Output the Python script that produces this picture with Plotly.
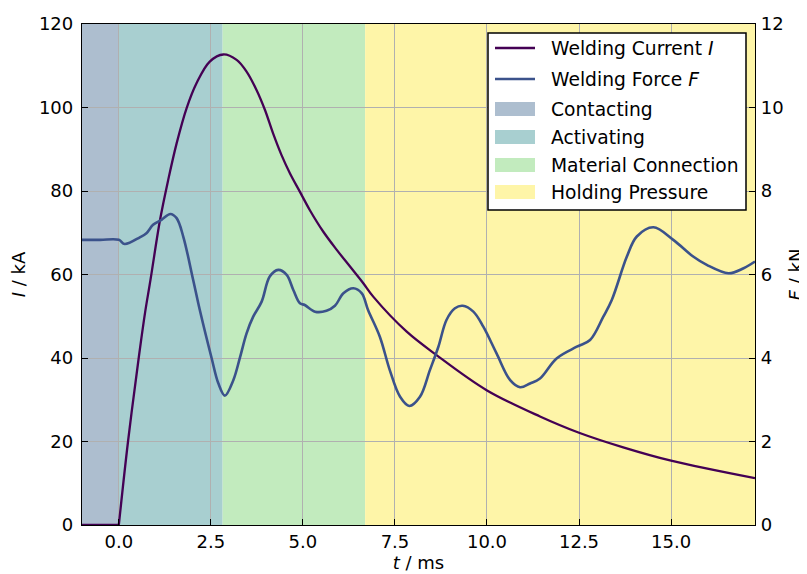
import plotly.graph_objects as go

# Welding current (kA) vs time (ms)
t_current = [-1.0, 0.0, 0.25, 0.54, 0.71, 0.86, 1.12, 1.34, 1.57, 1.84, 2.11, 2.47, 2.84,
             3.2, 3.47, 3.74, 3.97, 4.19, 4.42, 4.65, 4.92, 5.19, 5.55, 5.92, 6.28, 6.64, 6.91, 7.82,
             8.63, 9.99, 11.44, 12.5, 13.7, 15.0, 17.28]
current = [0, 0, 20, 40, 50.7, 58.7, 73.1, 82.6, 91.4, 99.8, 105.8, 111.0, 112.7,
           111.4, 108.6, 104.2, 99.4, 93.8, 88.6, 84.2, 79.8, 75.4, 70.3, 65.9, 61.9, 57.9, 54.7, 46.3,
           40.7, 32.3, 26.0, 22.1, 18.6, 15.4, 11.2]

# Welding force (kN) vs time (ms)
t_force = [-1.0, -0.5, 0.0, 0.16, 0.57, 0.75, 0.93, 1.16, 1.40, 1.57, 1.75, 2.02, 2.2, 2.52, 2.7, 2.88, 3.11,
           3.29, 3.47, 3.65, 3.88, 4.10, 4.33, 4.56, 4.74, 4.92, 5.05, 5.33, 5.64, 5.87, 6.10, 6.37, 6.60,
           6.77, 7.09, 7.36, 7.64, 7.89, 8.18, 8.45, 8.68, 8.9, 9.13, 9.34, 9.63, 9.9, 10.26, 10.63, 10.9,
           11.17, 11.44, 11.89, 12.44, 12.8, 13.16, 13.39, 13.8, 14.07, 14.52, 15.06, 15.6, 15.97, 16.56,
           16.97, 17.28]
force = [6.83, 6.83, 6.83, 6.73, 6.89, 6.99, 7.19, 7.31, 7.45, 7.35, 6.91, 5.87, 5.15, 4.0, 3.4, 3.10, 3.47,
         4.01, 4.59, 4.99, 5.35, 5.95, 6.11, 5.99, 5.63, 5.31, 5.27, 5.11, 5.13, 5.25, 5.55, 5.67, 5.55,
         5.15, 4.51, 3.71, 3.07, 2.85, 3.07, 3.71, 4.27, 4.91, 5.19, 5.25, 5.11, 4.75, 4.11, 3.47, 3.30,
         3.39, 3.51, 3.99, 4.27, 4.43, 4.99, 5.39, 6.43, 6.91, 7.13, 6.83, 6.43, 6.23, 6.03,
         6.15, 6.31]

# Process phases
phase_names = ["Contacting", "Activating", "Material Connection", "Holding Pressure"]
phase_start = [-1.0, 0.0, 2.82, 6.69]
phase_end = [0.0, 2.82, 6.69, 17.28]
phase_colors = ["#adbecf", "#a8cfd0", "#c2ebbe", "#fef5a8"]

series_names = ["Welding Current <i>I</i>", "Welding Force <i>F</i>"]
series_colors = ["#440154", "#3b528b"]

x_range = [-1.0, 17.28]
x_ticks = [0.0, 2.5, 5.0, 7.5, 10.0, 12.5, 15.0]
i_ticks = [0, 20, 40, 60, 80, 100, 120]
f_ticks = [0, 2, 4, 6, 8, 10, 12]

FONT = "DejaVu Sans"
W, H = 807, 574
OFF = 8                      # page body margin in the browser
PL, PT, PR, PB = 82, 24, 755, 525   # desired plot-area edges in page pixels
ML, MT = PL - OFF, PT - OFF
MR, MB = W - (PR - OFF), H - (PB - OFF)
PW, PH = PR - PL, PB - PT


def px(xpix):
    return (xpix - PL) / PW


def py(ypix):
    return 1 - (ypix - PT) / PH


fig = go.Figure()

# current: the off phase (t <= 0) is straight, the pulse is a smooth curve
k0 = t_current.index(0.0)
fig.add_trace(go.Scatter(
    x=t_current[:k0 + 1], y=current[:k0 + 1], mode="lines", name=series_names[0],
    line=dict(color=series_colors[0], width=2.3), yaxis="y",
))
fig.add_trace(go.Scatter(
    x=t_current[k0:], y=current[k0:], mode="lines", name=series_names[0],
    line=dict(color=series_colors[0], width=2.3, shape="spline", smoothing=1.0), yaxis="y",
))
fig.add_trace(go.Scatter(
    x=t_force, y=force, mode="lines", name=series_names[1],
    line=dict(color=series_colors[1], width=2.6, shape="spline", smoothing=1.0),
    yaxis="y2",
))

for nm, x0, x1, c in zip(phase_names, phase_start, phase_end, phase_colors):
    fig.add_shape(type="rect", xref="x", yref="paper", x0=x0, x1=x1, y0=0, y1=1,
                  fillcolor=c, line=dict(width=0), layer="below")

# ---- legend (drawn manually to match the boxed matplotlib style) ----
fig.add_shape(type="rect", xref="paper", yref="paper", x0=px(488), x1=px(746), y0=py(210), y1=py(33),
              fillcolor="white", line=dict(color="black", width=1.5), layer="above")
line_rows = [48, 79]
patch_rows = [109, 137, 165, 192]
for nm, c, yr in zip(series_names, series_colors, line_rows):
    fig.add_shape(type="line", xref="paper", yref="paper", x0=px(495), x1=px(535), y0=py(yr), y1=py(yr),
                  line=dict(color=c, width=2.5), layer="above")
    fig.add_annotation(xref="paper", yref="paper", x=px(549), y=py(yr), text=nm, showarrow=False,
                       xanchor="left", yanchor="middle",
                       font=dict(family=FONT, size=18.7, color="black"))
for nm, c, yr in zip(phase_names, phase_colors, patch_rows):
    fig.add_shape(type="rect", xref="paper", yref="paper", x0=px(495), x1=px(535), y0=py(yr + 7), y1=py(yr - 7),
                  fillcolor=c, line=dict(width=0), layer="above")
    fig.add_annotation(xref="paper", yref="paper", x=px(549), y=py(yr), text=nm, showarrow=False,
                       xanchor="left", yanchor="middle",
                       font=dict(family=FONT, size=18.7, color="black"))

axis_common = dict(
    showline=True, linecolor="black", linewidth=1.3,
    ticks="inside", ticklen=6, tickwidth=1.2, tickcolor="black",
    tickfont=dict(family=FONT, size=18, color="black"),
    zeroline=False, automargin=False,
)

fig.update_layout(
    width=W, height=H,
    margin=dict(l=ML, r=MR, t=MT, b=MB, autoexpand=False),
    paper_bgcolor="white", plot_bgcolor="white",
    font=dict(family=FONT, size=18, color="black"),
    showlegend=False,
    xaxis=dict(range=x_range, tickvals=x_ticks, ticktext=[f"{v:.1f}" for v in x_ticks],
               showgrid=True, gridcolor="#b0b0b0", gridwidth=1, mirror=True,
               title=dict(text="<i>t</i> / ms", font=dict(family=FONT, size=18), standoff=4),
               **axis_common),
    yaxis=dict(range=[0, 120], tickvals=i_ticks, showgrid=True, gridcolor="#b0b0b0", gridwidth=1,
               ticklabelstandoff=4,
               title=dict(text="<i>I</i> / kA", font=dict(family=FONT, size=18), standoff=8),
               **axis_common),
    yaxis2=dict(range=[0, 12], tickvals=f_ticks, overlaying="y", side="right", showgrid=False,
                ticklabelstandoff=1,
                title=dict(text="<i>F</i> / kN", font=dict(family=FONT, size=18), standoff=6),
                **axis_common),
)

fig.write_html("out.html")
